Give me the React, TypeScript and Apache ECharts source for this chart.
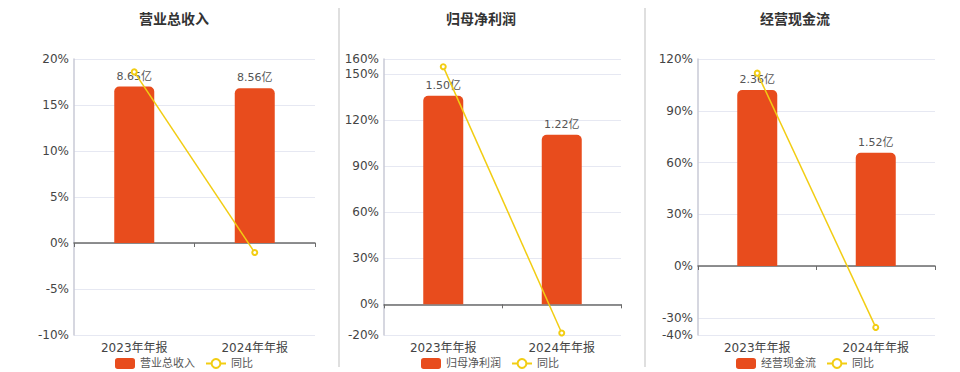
import React, { useEffect, useRef } from "react";
import * as echarts from "echarts";

const categories = ["2023年年报", "2024年年报"];

const revenueName = "营业总收入";
const revenue = [8.65, 8.56];
const revenueYoy = [18.6, -1.04];
const revenueTicks = [-10, -5, 0, 5, 10, 15, 20];

const profitName = "归母净利润";
const profit = [1.5, 1.22];
const profitYoy = [155, -18.7];
const profitTicks = [-20, 0, 30, 60, 90, 120, 150, 160];

const cashName = "经营现金流";
const cash = [2.36, 1.52];
const cashYoy = [111.8, -35.6];
const cashTicks = [-40, -30, 0, 30, 60, 90, 120];

const yoyName = "同比";

const BAR_COLOR = "#E84C1D";
const LINE_COLOR = "#F2CD13";
const FONT = "'DejaVu Sans', 'Noto Sans CJK SC', sans-serif";

export default function App() {
  const ref = useRef<HTMLDivElement>(null);
  useEffect(() => {
    if (!ref.current) return;
    const chart = echarts.init(ref.current, undefined, { renderer: "svg" });

    const panels = [
      { name: revenueName, bars: revenue, yoy: revenueYoy, ticks: revenueTicks, left: 74, width: 241, center: 174, legendLeft: 110 },
      { name: profitName, bars: profit, yoy: profitYoy, ticks: profitTicks, left: 384, width: 237, center: 481, legendLeft: 416 },
      { name: cashName, bars: cash, yoy: cashYoy, ticks: cashTicks, left: 698, width: 237, center: 795, legendLeft: 731 },
    ];

    const grid: any[] = [];
    const xAxis: any[] = [];
    const yAxis: any[] = [];
    const series: any[] = [];
    const legend: any[] = [];
    const graphic: any[] = [];

    panels.forEach((p, i) => {
      const yMin = p.ticks[0];
      const yMax = p.ticks[p.ticks.length - 1];
      const barMax = Math.max(...p.bars) / 0.85;
      const barMin = (barMax * yMin) / yMax;
      grid.push({ left: p.left, width: p.width, top: 59, height: 276 });
      xAxis.push({
        type: "category",
        gridIndex: i,
        data: categories,
        position: "bottom",
        axisLine: { show: false, onZero: false },
        axisTick: { show: false },
        axisLabel: { color: "#444", fontSize: 12, margin: 7, fontFamily: FONT },
      });
      xAxis.push({
        type: "category",
        gridIndex: i,
        data: categories,
        position: "bottom",
        axisLine: { show: true, onZero: true, lineStyle: { color: "#6b6b6b", width: 1.5 } },
        axisTick: { show: true, length: 4, lineStyle: { color: "#6b6b6b" } },
        axisLabel: { show: false },
      });
      yAxis.push({
        type: "value",
        gridIndex: i,
        min: yMin,
        max: yMax,
        interval: 10,
        axisLine: { show: true, lineStyle: { color: "#c8cad6", width: 1.5 } },
        axisTick: { show: false, customValues: p.ticks },
        splitLine: { show: true, lineStyle: { color: "#e6e8f2" } },
        axisLabel: { color: "#444", fontSize: 12, margin: 5, fontFamily: FONT, formatter: "{value}%", customValues: p.ticks },
      });
      yAxis.push({
        type: "value",
        gridIndex: i,
        min: barMin,
        max: barMax,
        show: false,
        splitLine: { show: false },
      });
      series.push({
        type: "bar",
        name: p.name,
        xAxisIndex: i * 2 + 1,
        yAxisIndex: i * 2 + 1,
        data: p.bars,
        barWidth: 40,
        itemStyle: { color: BAR_COLOR, borderRadius: [5, 5, 0, 0] },
        label: {
          show: true,
          position: "top",
          color: "#555",
          fontSize: 11,
          fontFamily: FONT,
          formatter: (v: any) => v.value.toFixed(2) + "亿",
        },
        z: 2,
      });
      series.push({
        type: "line",
        name: yoyName,
        xAxisIndex: i * 2 + 1,
        yAxisIndex: i * 2,
        data: p.yoy,
        symbol: "emptyCircle",
        symbolSize: 5,
        lineStyle: { color: LINE_COLOR, width: 1.5 },
        itemStyle: { color: LINE_COLOR },
        z: 3,
      });
      legend.push({
        left: p.legendLeft,
        top: 353,
        itemWidth: 20,
        itemHeight: 11,
        itemGap: 10,
        textStyle: { color: "#555", fontSize: 11, fontFamily: FONT },
        data: [
          { name: p.name, icon: "roundRect", itemStyle: { color: BAR_COLOR } },
          { name: yoyName },
        ],
      });
      graphic.push({
        type: "text",
        x: p.center,
        y: 19,
        style: {
          text: p.name,
          fill: "#333",
          fontSize: 14,
          fontWeight: "bold",
          fontFamily: FONT,
          textAlign: "center",
          textVerticalAlign: "middle",
        },
      });
    });

    graphic.push({ type: "line", shape: { x1: 339, y1: 8, x2: 339, y2: 367 }, style: { stroke: "#d4d4d4", lineWidth: 1.5 } });
    graphic.push({ type: "line", shape: { x1: 645, y1: 8, x2: 645, y2: 367 }, style: { stroke: "#d4d4d4", lineWidth: 1.5 } });

    chart.setOption({
      animation: false,
      backgroundColor: "#fff",
      textStyle: { fontFamily: FONT },
      grid,
      xAxis,
      yAxis,
      series,
      legend,
      graphic,
    });
    return () => chart.dispose();
  }, []);
  return <div ref={ref} style={{ position: "fixed", left: 0, top: 0, width: 960, height: 372 }} />;
}
